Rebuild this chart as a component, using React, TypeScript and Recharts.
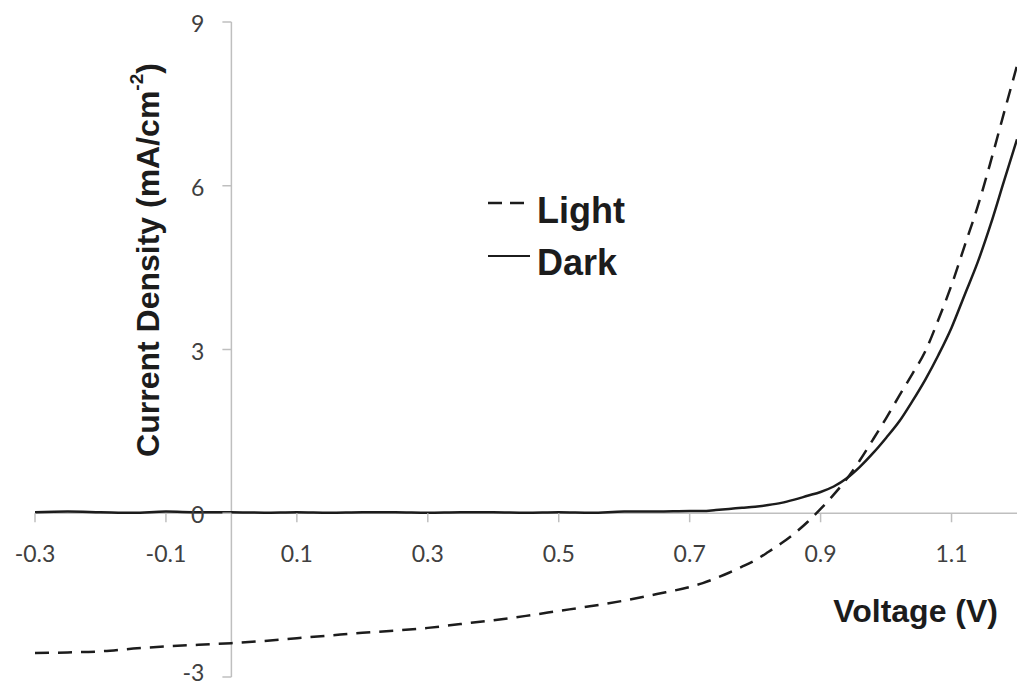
import { LineChart, Line, XAxis, YAxis, ReferenceLine, Legend, Label } from "recharts"

// J-V curve
const voltage = [
  -0.3, -0.25, -0.2, -0.15, -0.1, -0.05, 0, 0.05, 0.1, 0.15, 0.2, 0.25, 0.3, 0.35, 0.4, 0.45, 0.5, 0.55, 0.6, 0.65,
  0.7, 0.72, 0.74, 0.76, 0.78, 0.8, 0.82, 0.84, 0.86, 0.88, 0.9, 0.92, 0.94, 0.96, 0.98, 1.0, 1.02, 1.04, 1.06, 1.08,
  1.1, 1.12, 1.14, 1.16, 1.18, 1.2,
]
const lightCurrent = [
  -2.56, -2.55, -2.53, -2.48, -2.44, -2.41, -2.38, -2.34, -2.29, -2.24, -2.19, -2.15, -2.1, -2.03, -1.96, -1.88, -1.79,
  -1.7, -1.6, -1.48, -1.35, -1.28, -1.19, -1.09, -0.98, -0.86, -0.71, -0.55, -0.37, -0.16, 0.08, 0.34, 0.63, 0.97,
  1.35, 1.74, 2.15, 2.55, 2.97, 3.55, 4.18, 4.9, 5.62, 6.45, 7.33, 8.2,
]
const darkCurrent = [
  0.02, 0.03, 0.02, 0.01, 0.03, 0.02, 0.02, 0.01, 0.02, 0.01, 0.02, 0.02, 0.01, 0.02, 0.02, 0.01, 0.02, 0.01, 0.03, 0.03,
  0.04, 0.04, 0.06, 0.08, 0.1, 0.12, 0.15, 0.19, 0.25, 0.32, 0.39, 0.49, 0.64, 0.85, 1.1, 1.38, 1.68, 2.05, 2.45, 2.9,
  3.4, 4.0, 4.6, 5.3, 6.08, 6.85,
]
const xTicks = [-0.3, -0.1, 0.1, 0.3, 0.5, 0.7, 0.9, 1.1]
const yTicks = [-3, 0, 3, 6, 9]

const data = voltage.map((v, i) => ({ v, light: lightCurrent[i], dark: darkCurrent[i] }))

const W = 1017
const H = 688
const AXIS_W = 35 // y axis band on the left
const AXIS_H = 11 // x axis band at the bottom
const M = { top: 22, right: 0, bottom: 0, left: 0 }
const X_MIN = -0.3
const X_MAX = 1.2
const Y_MIN = -3
const Y_MAX = 9
const plotW = W - AXIS_W - M.right
const plotH = H - M.top - AXIS_H
// where the axes cross (x = 0, y = 0)
const X0 = AXIS_W + (plotW * (0 - X_MIN)) / (X_MAX - X_MIN)
const Y0 = M.top + (plotH * (Y_MAX - 0)) / (Y_MAX - Y_MIN)

const AXIS = "#bfbfbf"
const INK = "#1c1c1c"
const TICK_FONT = "Lato, 'Open Sans', sans-serif"
const BOLD_FONT = "'Liberation Sans', Arial, sans-serif"

const XTick = (props: any) => {
  const { x, payload } = props
  return (
    <g>
      <line x1={x} x2={x} y1={Y0} y2={Y0 + 9} stroke={AXIS} strokeWidth={1.5} />
      <text x={x} y={Y0 + 40} textAnchor="middle" dominantBaseline="central" fontFamily={TICK_FONT} fontSize={23} fill="#404040">
        {payload.value.toFixed(1)}
      </text>
    </g>
  )
}

const YTick = (props: any) => {
  const { y, payload } = props
  // keep the bottom label inside the picture
  const ty = Math.min(y + 1, H - 16)
  return (
    <g>
      <line x1={X0 - 9} x2={X0} y1={y} y2={y} stroke={AXIS} strokeWidth={1.5} />
      <text x={X0 - 27} y={ty} textAnchor="end" dominantBaseline="central" fontFamily={TICK_FONT} fontSize={23} fill="#404040">
        {payload.value}
      </text>
    </g>
  )
}

const LegendBox = () => (
  <svg width={200} height={110}>
    <line x1={8} x2={50} y1={23} y2={23} stroke={INK} strokeWidth={2.5} strokeDasharray="14 8" />
    <text x={57} y={43} fontFamily={BOLD_FONT} fontWeight="bold" fontSize={36} fill={INK}>
      Light
    </text>
    <line x1={8} x2={50} y1={76} y2={76} stroke={INK} strokeWidth={2} />
    <text x={57} y={95} fontFamily={BOLD_FONT} fontWeight="bold" fontSize={36} fill={INK}>
      Dark
    </text>
  </svg>
)

export default function App() {
  return (
    <div style={{ width: W, height: H }}>
      <style>{"html,body{margin:0;padding:0;overflow:hidden;background:#fff}"}</style>
      <LineChart width={W} height={H} data={data} margin={M}>
        <XAxis
          dataKey="v"
          type="number"
          domain={[X_MIN, X_MAX]}
          ticks={xTicks}
          height={AXIS_H}
          axisLine={false}
          tickLine={false}
          tick={<XTick />}
          interval={0}
        >
          <Label
            content={() => (
              <text x={998} y={622} textAnchor="end" fontFamily={BOLD_FONT} fontWeight="bold" fontSize={32} fill={INK}>
                Voltage (V)
              </text>
            )}
          />
        </XAxis>
        <YAxis
          type="number"
          domain={[Y_MIN, Y_MAX]}
          ticks={yTicks}
          width={AXIS_W}
          axisLine={false}
          tickLine={false}
          tick={<YTick />}
          interval={0}
        >
          <Label
            content={() => (
              <text
                x={148}
                y={260}
                transform="rotate(-90 148 260)"
                textAnchor="middle"
                dominantBaseline="central"
                fontFamily={BOLD_FONT}
                fontWeight="bold"
                fontSize={32}
                fill={INK}
              >
                Current Density (mA/cm
                <tspan fontSize={19} dy={-12}>
                  -2
                </tspan>
                <tspan dy={12}>)</tspan>
              </text>
            )}
          />
        </YAxis>
        <ReferenceLine x={0} stroke={AXIS} strokeWidth={1.5} />
        <ReferenceLine y={0} stroke={AXIS} strokeWidth={1.5} />
        <Legend
          layout="vertical"
          align="center"
          verticalAlign="middle"
          content={<LegendBox />}
          wrapperStyle={{ left: 480, top: 180, width: 200, height: 110 }}
        />
        <Line
          type="monotone"
          dataKey="dark"
          stroke={INK}
          strokeWidth={2.5}
          dot={false}
          isAnimationActive={false}
          legendType="none"
        />
        <Line
          type="monotone"
          dataKey="light"
          stroke={INK}
          strokeWidth={2.5}
          strokeDasharray="14 9"
          dot={false}
          isAnimationActive={false}
          legendType="none"
        />
      </LineChart>
    </div>
  )
}
